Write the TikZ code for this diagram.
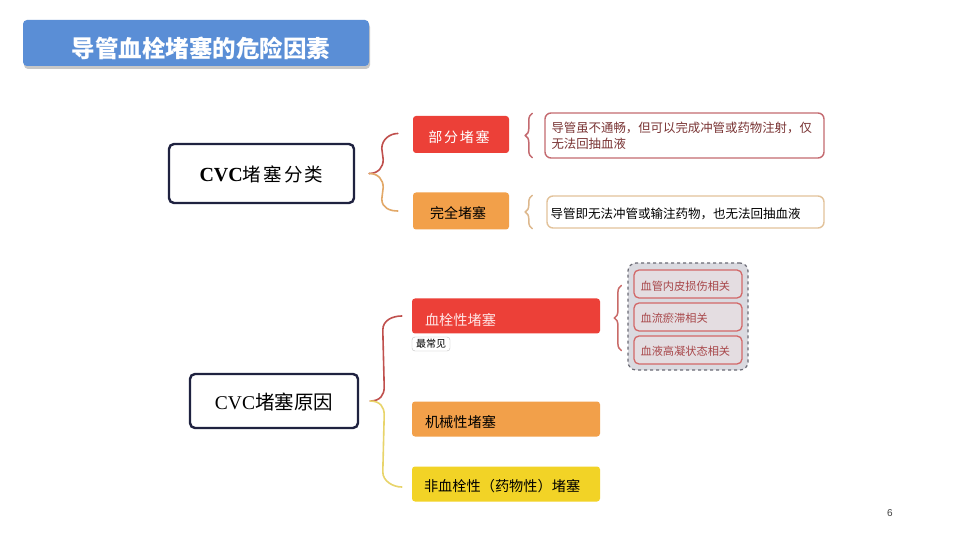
\documentclass[tikz,border=0pt]{standalone}
\usepackage{fontspec}
\setmainfont{Noto Sans CJK SC}
\newfontfamily\cjk{Noto Sans CJK SC}
\newfontfamily\cjksp[LetterSpace=12]{Noto Sans CJK SC}
\newfontfamily\enserif{Liberation Serif}
\newfontfamily\ensans{Liberation Sans}
\usetikzlibrary{decorations.pathreplacing,calc}
\definecolor{titleblue}{HTML}{5A8ED6}
\definecolor{navy}{HTML}{1F2240}
\definecolor{boxred}{HTML}{EC4038}
\definecolor{boxorange}{HTML}{F2A04A}
\definecolor{boxyellow}{HTML}{F2D326}
\definecolor{bracered}{HTML}{C0504D}
\definecolor{braceorange}{HTML}{E2A868}
\definecolor{braceyellow}{HTML}{E8D46A}
\definecolor{descred}{HTML}{C46A70}
\definecolor{desctext}{HTML}{7A3434}
\definecolor{desctan}{HTML}{E2C29A}
\definecolor{groupfill}{HTML}{DADAE0}
\definecolor{groupline}{HTML}{6B6B75}
\definecolor{subfill}{HTML}{E4DDE1}
\definecolor{subline}{HTML}{D26868}
\definecolor{subtext}{HTML}{A8474A}
\tikzset{
  mainbox/.style={draw=navy, line width=2.4pt, rounded corners=5pt, fill=white, inner sep=0pt},
  catbox/.style={rounded corners=3pt, inner sep=0pt, minimum width=96pt, minimum height=37pt},
  causebox/.style={rounded corners=3pt, inner sep=0pt, minimum width=188pt, minimum height=35pt},
  descbox/.style={draw, line width=1.4pt, rounded corners=6pt, fill=white, inner sep=0pt},
  subbox/.style={draw=subline, line width=1.3pt, rounded corners=5pt, fill=subfill, inner sep=0pt, minimum width=108pt, minimum height=28pt},
  subtxt/.style={text=subtext, font=\cjk\fontsize{11.2}{13}\selectfont, anchor=west, inner sep=0pt},
  bracepath/.style={line width=1.6pt, line cap=round},
  smallbrace/.style={decorate, decoration={brace, amplitude=7pt}, line width=1.5pt, line cap=round}
}
\begin{document}
\begin{tikzpicture}[x=1pt,y=-1pt]
\useasboundingbox (0,0) rectangle (956,537);
\fill[white] (0,0) rectangle (956,537);

% title
\fill[black!22, rounded corners=4pt] (24,23) rectangle (370,69);
\node[fill=titleblue, rounded corners=4pt, minimum width=346pt, minimum height=46pt, inner sep=0pt] (title) at (196,43) {};
\node[text=white, font=\cjk\bfseries\fontsize{23.5}{26}\selectfont, inner sep=0pt] (titletext) at ($(title.center)+(5,5)$) {导管血栓堵塞的危险因素};

% section 1
\node[mainbox, minimum width=185pt, minimum height=59pt] (cls) at (261.5,173.5) {};
\node[inner sep=0pt] (clstext) at ($(cls.center)+(0,1)$) {{\enserif\bfseries\fontsize{20}{22}\selectfont CVC}{\cjksp\fontsize{18.5}{22}\selectfont 堵塞分类}};

\node[catbox, fill=boxred] (part) at (461,134.5) {};
\node[text=white, font=\cjksp\fontsize{14}{16}\selectfont, inner sep=0pt] (parttext) at ($(part.center)+(-2,3)$) {部分堵塞};
\node[catbox, fill=boxorange] (full) at (461,211) {};
\node[text=black, font=\cjk\fontsize{14}{16}\selectfont, inner sep=0pt] (fulltext) at ($(full.center)+(-3,2)$) {完全堵塞};

\coordinate (m1) at ($(cls.east)+(14,0)$);
\draw[bracepath, bracered] (m1) .. controls +(9,0) and +(0,8) .. ($(m1)+(14,-14)$) -- ($(part.west)+(-31,14)$) .. controls +(0,-9) and +(-8,0) .. ($(part.west)+(-15,-1)$);
\draw[bracepath, braceorange] (m1) .. controls +(9,0) and +(0,-8) .. ($(m1)+(14,14)$) -- ($(full.west)+(-31,-12)$) .. controls +(0,9) and +(-8,0) .. ($(full.west)+(-15,0)$);

\node[descbox, draw=descred, minimum width=279pt, minimum height=45pt] (desc1) at (684.5,135.5) {};
\node[text=desctext, font=\cjk\fontsize{12.4}{16}\selectfont, anchor=north west, inner sep=0pt, align=left] (desc1text) at ($(desc1.north west)+(7,9)$) {导管虽不通畅，但可以完成冲管或药物注射，仅\\无法回抽血液};
\node[descbox, draw=desctan, minimum width=277pt, minimum height=32pt] (desc2) at (685.5,212) {};
\node[text=black, font=\cjk\fontsize{12.5}{16}\selectfont, anchor=west, inner sep=0pt] (desc2text) at ($(desc2.west)+(4,2)$) {导管即无法冲管或输注药物，也无法回抽血液};

\draw[smallbrace, descred] ($(desc1.south west)+(-12,-1)$) -- ($(desc1.north west)+(-12,1)$);
\draw[smallbrace, desctan!85!brown] ($(desc2.south west)+(-14,0)$) -- ($(desc2.north west)+(-14,0)$);

% section 2
\node[mainbox, minimum width=168pt, minimum height=54pt] (cause) at (274,401) {};
\node[inner sep=0pt] (causetext) at ($(cause.center)+(0,1)$) {{\enserif\fontsize{19.5}{22}\selectfont CVC}{\cjk\fontsize{19.5}{22}\selectfont 堵塞原因}};

\node[causebox, fill=boxred] (thromb) at (506,316) {};
\node[text=red!10, font=\cjk\fontsize{14.2}{16}\selectfont, anchor=west, inner sep=0pt] (thrombtext) at ($(thromb.west)+(13,4)$) {血栓性堵塞};
\node[draw=black!25, fill=white, rounded corners=3pt, minimum width=38pt, minimum height=14pt, inner sep=0pt, font=\cjk\fontsize{10}{12}\selectfont] (common) at (431,344) {最常见};

\node[causebox, fill=boxorange] (mech) at (506,419) {};
\node[text=black, font=\cjk\fontsize{14.2}{16}\selectfont, anchor=west, inner sep=0pt] (mechtext) at ($(mech.west)+(13,3)$) {机械性堵塞};
\node[causebox, fill=boxyellow] (nonth) at (506,484) {};
\node[text=black, font=\cjk\fontsize{14.2}{16}\selectfont, anchor=west, inner sep=0pt] (nonthtext) at ($(nonth.west)+(12,2)$) {非血栓性（药物性）堵塞};

\coordinate (m2) at ($(cause.east)+(11,0)$);
\draw[bracepath, bracered] (m2) .. controls +(10,0) and +(0,8) .. ($(m2)+(14,-14)$) -- ($(thromb.west)+(-29,14)$) .. controls +(0,-10) and +(-9,0) .. ($(thromb.west)+(-10,0)$);
\draw[bracepath, braceyellow] (m2) .. controls +(10,0) and +(0,-8) .. ($(m2)+(14,14)$) -- ($(nonth.west)+(-29,-12)$) .. controls +(0,9) and +(-9,0) .. ($(nonth.west)+(-10,3)$);

% group
\node[draw=groupline, dashed, line width=1.2pt, fill=groupfill, rounded corners=8pt, minimum width=120pt, minimum height=107pt, inner sep=0pt] (group) at (688,316.5) {};
\node[subbox] (s1) at (688,284) {};
\node[subtxt] (s1t) at ($(s1.west)+(7,2)$) {血管内皮损伤相关};
\node[subbox] (s2) at (688,317) {};
\node[subtxt] (s2t) at ($(s2.west)+(7,1)$) {血流瘀滞相关};
\node[subbox] (s3) at (688,350) {};
\node[subtxt] (s3t) at ($(s3.west)+(7,1)$) {血液高凝状态相关};

\draw[smallbrace, bracered!85!white] ($(group.west)+(-6,34)$) -- ($(group.west)+(-6,-31)$);

% page number
\node[text=black!75, font=\ensans\fontsize{10}{12}\selectfont, inner sep=0pt] (page) at (890,513) {6};
\end{tikzpicture}
\end{document}
